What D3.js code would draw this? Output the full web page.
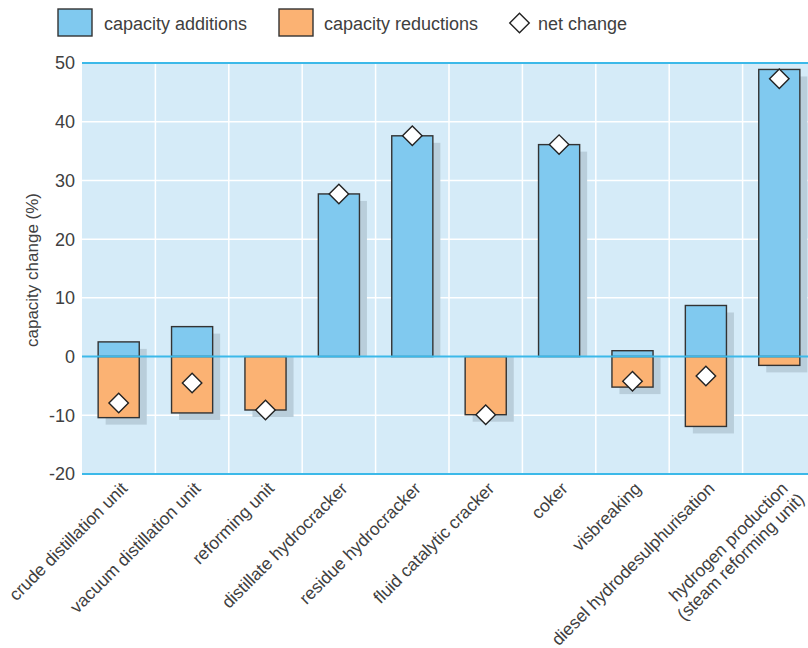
<!DOCTYPE html>
<html>
<head>
<meta charset="utf-8">
<script src="https://cdn.jsdelivr.net/npm/d3@7"></script>
<style>
  html, body { margin: 0; padding: 0; background: #fff; }
  svg { display: block; font-family: "Liberation Sans", Arial, sans-serif; }
</style>
</head>
<body>
<svg id="chart" width="808" height="648"></svg>
<script>
// Refinery unit capacity change, %
const categories = [
  "crude distillation unit",
  "vacuum distillation unit",
  "reforming unit",
  "distillate hydrocracker",
  "residue hydrocracker",
  "fluid catalytic cracker",
  "coker",
  "visbreaking",
  "diesel hydrodesulphurisation",
  "hydrogen production|(steam reforming unit)"
];
const additions  = [2.5, 5.1, 0, 27.7, 37.6, 0, 36.1, 1.0, 8.7, 48.9];
const reductions = [-10.4, -9.6, -9.1, 0, 0, -9.9, 0, -5.2, -11.9, -1.5];
const netChange  = [-7.9, -4.5, -9.1, 27.7, 37.6, -9.9, 36.1, -4.2, -3.3, 47.3];
const yTicks = [-20, -10, 0, 10, 20, 30, 40, 50];
const legendItems = ["capacity additions", "capacity reductions", "net change"];

const svg = d3.select("#chart");
const plotLeft = 82, step = 73.4, plotTop = 63, plotBottom = 474;
const plotRight = plotLeft + step * categories.length;
const idx = d3.range(categories.length);

const x = d3.scaleBand()
  .domain(categories)
  .range([plotLeft, plotRight])
  .paddingInner(0.44)
  .paddingOuter(0.22);

const y = d3.scaleLinear().domain([-20, 50]).range([plotBottom, plotTop]);

const textColor = "#404040";
const blueLine = "#3cb9e9";

// plot background
svg.append("rect")
  .attr("x", plotLeft).attr("y", y(50))
  .attr("width", plotRight - plotLeft).attr("height", y(-20) - y(50))
  .attr("fill", "#d5ebf8");

// white gridlines
svg.append("g").selectAll("line")
  .data(yTicks.filter(t => t !== 50 && t !== -20 && t !== 0))
  .join("line")
  .attr("x1", plotLeft).attr("x2", plotRight)
  .attr("y1", d => y(d)).attr("y2", d => y(d))
  .attr("stroke", "#fff").attr("stroke-width", 1.5);

svg.append("g").selectAll("line")
  .data(d3.range(1, categories.length))
  .join("line")
  .attr("x1", i => plotLeft + i * step).attr("x2", i => plotLeft + i * step)
  .attr("y1", y(50)).attr("y2", y(-20))
  .attr("stroke", "#fff").attr("stroke-width", 1.5);

// drop shadows (offset down-right, stopping at the zero line on the empty side)
const shadow = { dx: 7.5, dy: 7 };
const shTop = i => additions[i] > 0 ? y(additions[i]) + shadow.dy : y(0);
const shBot = i => reductions[i] < 0 ? y(reductions[i]) + shadow.dy : y(0);
svg.append("g").selectAll("rect")
  .data(idx)
  .join("rect")
  .attr("x", i => x(categories[i]) + shadow.dx)
  .attr("y", shTop)
  .attr("width", x.bandwidth())
  .attr("height", i => shBot(i) - shTop(i))
  .attr("fill", "#b9cedb");

// bars: additions above zero, reductions below
svg.append("g").selectAll("rect")
  .data(idx.filter(i => additions[i] > 0))
  .join("rect")
  .attr("x", i => x(categories[i]))
  .attr("y", i => y(additions[i]))
  .attr("width", x.bandwidth())
  .attr("height", i => y(0) - y(additions[i]))
  .attr("fill", "#80c9ef")
  .attr("stroke", "#333").attr("stroke-width", 1.4);

svg.append("g").selectAll("rect")
  .data(idx.filter(i => reductions[i] < 0))
  .join("rect")
  .attr("x", i => x(categories[i]))
  .attr("y", y(0))
  .attr("width", x.bandwidth())
  .attr("height", i => y(reductions[i]) - y(0))
  .attr("fill", "#fbb273")
  .attr("stroke", "#333").attr("stroke-width", 1.4);

// blue lines: top, zero, bottom
svg.append("g").selectAll("line")
  .data([50, 0, -20])
  .join("line")
  .attr("x1", plotLeft).attr("x2", plotRight)
  .attr("y1", d => y(d)).attr("y2", d => y(d))
  .attr("stroke", blueLine).attr("stroke-width", 2);

// net change diamonds
const diamond = d3.symbol().type(d3.symbolSquare).size(190);
svg.append("g").selectAll("path")
  .data(idx)
  .join("path")
  .attr("d", diamond)
  .attr("transform", i => `translate(${x(categories[i]) + x.bandwidth() / 2},${y(netChange[i])}) rotate(45)`)
  .attr("fill", "#fff")
  .attr("stroke", "#222").attr("stroke-width", 1.4);

// y axis labels
svg.append("g").selectAll("text")
  .data(yTicks)
  .join("text")
  .attr("x", 75).attr("y", d => y(d))
  .attr("dy", "0.36em")
  .attr("text-anchor", "end")
  .attr("font-size", 18)
  .attr("fill", textColor)
  .text(d => d);

svg.append("text")
  .attr("transform", "translate(38,270) rotate(-90)")
  .attr("text-anchor", "middle")
  .attr("font-size", 17)
  .attr("fill", textColor)
  .text("capacity change (%)");

// x axis labels, rotated
const xl = svg.append("g").selectAll("text")
  .data(categories)
  .join("text")
  .attr("transform", d => `translate(${x(d) + x.bandwidth() / 2 + 1},${plotBottom + 7}) rotate(-45)`)
  .attr("text-anchor", "end")
  .attr("font-size", 17.5)
  .attr("fill", textColor);
xl.each(function(d) {
  const t = d3.select(this);
  d.split("|").forEach((ln, k) => {
    t.append("tspan")
      .attr("x", k === 0 ? 0 : 4)
      .attr("dy", k === 0 ? "0.7em" : "1.1em")
      .text(ln);
  });
});

// legend
const lg = svg.append("g");
const swatchX = [58, 279];
["#80c9ef", "#fbb273"].forEach((c, i) => {
  lg.append("rect")
    .attr("x", swatchX[i]).attr("y", 9)
    .attr("width", 34).attr("height", 27)
    .attr("fill", c).attr("stroke", "#333").attr("stroke-width", 1.4);
});
lg.append("path")
  .attr("d", diamond)
  .attr("transform", "translate(519.5,23) rotate(45)")
  .attr("fill", "#fff").attr("stroke", "#222").attr("stroke-width", 1.4);
lg.selectAll("text")
  .data(legendItems)
  .join("text")
  .attr("x", (d, i) => [104, 324, 538][i])
  .attr("y", 30)
  .attr("font-size", 18)
  .attr("fill", textColor)
  .text(d => d);
</script>
</body>
</html>
